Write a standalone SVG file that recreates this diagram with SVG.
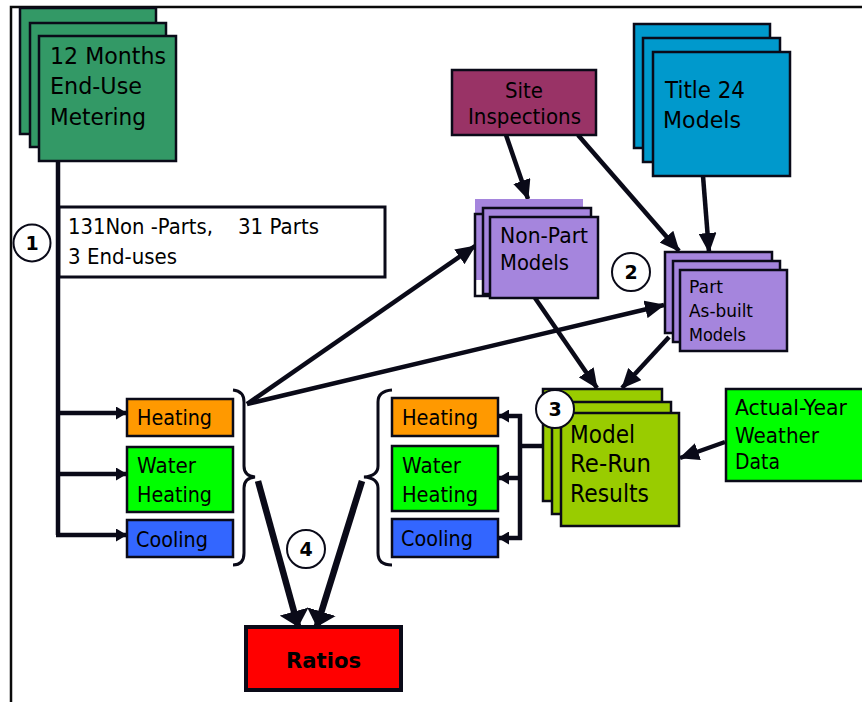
<svg xmlns="http://www.w3.org/2000/svg" width="862" height="702" viewBox="0 0 862 702">
<style>
text{font-family:"DejaVu Sans","Verdana",sans-serif;fill:#000}
.box{stroke:#0a0a18;stroke-width:2.5}
.ln{stroke:#0a0a18;stroke-width:4.5;fill:none}
.thick{stroke:#0a0a18;stroke-width:6.5;fill:none}
.brace{stroke:#0a0a18;stroke-width:3;fill:none}
.circ{fill:#fff;stroke:#0a0a18;stroke-width:2}
.num{font-family:"DejaVu Sans",sans-serif;font-weight:bold;font-size:19px;text-anchor:middle}
</style>
<defs>
<marker id="ah" markerUnits="userSpaceOnUse" markerWidth="20" markerHeight="18" refX="19" refY="9" orient="auto"><path d="M0,0 L20,9 L0,18 z" fill="#0a0a18"/></marker>
<marker id="as" markerUnits="userSpaceOnUse" markerWidth="11" markerHeight="13" refX="10" refY="6.5" orient="auto"><path d="M0,0 L11,6.5 L0,13 z" fill="#0a0a18"/></marker>
<marker id="ab" markerUnits="userSpaceOnUse" markerWidth="16" markerHeight="30" refX="15" refY="15" orient="auto"><path d="M0,0 L16,15 L0,30 z" fill="#0a0a18"/></marker>
</defs>
<rect x="11" y="7" width="870" height="720" fill="#fff" stroke="#0a0a0a" stroke-width="2.5"/>

<g id="connectors">
<path class="ln" d="M58,161 V535"/>
<path class="ln" d="M56,413 H126" marker-end="url(#as)"/>
<path class="ln" d="M56,474 H126" marker-end="url(#as)"/>
<path class="ln" d="M56,535 H126" marker-end="url(#as)"/>
<path class="ln" d="M520,414 V540"/>
<path class="ln" d="M520,446 H543"/>
<path class="ln" d="M522,416 H499" marker-end="url(#as)"/>
<path class="ln" d="M522,478 H499" marker-end="url(#as)"/>
<path class="ln" d="M522,538 H499" marker-end="url(#as)"/>
<path class="ln" d="M506,135 L528,199" marker-end="url(#ah)"/>
<path class="ln" d="M578,135 L679,251" marker-end="url(#ah)"/>
<path class="ln" d="M703,176 L709,252" marker-end="url(#ah)"/>
<path class="ln" d="M247,404 L475,246" marker-end="url(#ah)"/>
<path class="ln" d="M247,404 L664,305" marker-end="url(#ah)"/>
<path class="ln" d="M535,298 L597,388" marker-end="url(#ah)"/>
<path class="ln" d="M669,337 L622,388" marker-end="url(#ah)"/>
<path class="ln" d="M725,442 L680,458" marker-end="url(#ah)"/>
<path class="thick" d="M258,481 L298,626" marker-end="url(#ab)"/>
<path class="thick" d="M362,481 L317,626" marker-end="url(#ab)"/>
<path class="brace" d="M233,390 Q244,391 244,402 L244,466 Q244,476 255,477 Q244,478 244,488 L244,553 Q244,565 233,565"/>
<path class="brace" d="M392,390 Q378,391 378,402 L378,466 Q378,476 364,477 Q378,478 378,488 L378,553 Q378,565 392,565"/>
</g>

<g id="metering">
<rect class="box" x="20" y="8" width="136" height="126" fill="#339966"/>
<rect class="box" x="30" y="23" width="136" height="124" fill="#339966"/>
<rect class="box" x="39" y="36" width="137" height="125" fill="#339966"/>
<text x="50" y="64" font-size="23" textLength="116" lengthAdjust="spacingAndGlyphs">12 Months</text>
<text x="50" y="94" font-size="23" textLength="92" lengthAdjust="spacingAndGlyphs">End-Use</text>
<text x="50" y="125" font-size="23" textLength="96" lengthAdjust="spacingAndGlyphs">Metering</text>
</g>

<g id="counts">
<rect x="59" y="207" width="326" height="70" fill="#fff" stroke="#0a0a18" stroke-width="3"/>
<text x="68" y="234" font-size="20.5" textLength="145" lengthAdjust="spacingAndGlyphs">131Non -Parts,</text>
<text x="238" y="234" font-size="20.5" textLength="81" lengthAdjust="spacingAndGlyphs">31 Parts</text>
<text x="68" y="264" font-size="20.5" textLength="109" lengthAdjust="spacingAndGlyphs">3 End-uses</text>
</g>

<g id="site">
<rect class="box" x="452" y="70" width="144" height="65" fill="#993366"/>
<text x="505" y="98" font-size="22" textLength="38" lengthAdjust="spacingAndGlyphs">Site</text>
<text x="468" y="124" font-size="22" textLength="113" lengthAdjust="spacingAndGlyphs">Inspections</text>
</g>

<g id="title24">
<rect class="box" x="634" y="24" width="136" height="124" fill="#0099cc"/>
<rect class="box" x="643" y="38" width="137" height="124" fill="#0099cc"/>
<rect class="box" x="653" y="52" width="137" height="124" fill="#0099cc"/>
<text x="665" y="98" font-size="23" textLength="80" lengthAdjust="spacingAndGlyphs">Title 24</text>
<text x="663" y="128" font-size="23" textLength="78" lengthAdjust="spacingAndGlyphs">Models</text>
</g>

<g id="nonpart">
<rect x="475" y="199" width="108" height="81" fill="#a585dd"/>
<rect class="box" x="475" y="214" width="108" height="82" fill="none"/>
<rect class="box" x="483" y="208" width="108" height="86" fill="#a585dd"/>
<rect class="box" x="490" y="217" width="108" height="81" fill="#a585dd"/>
<text x="500" y="243" font-size="21" textLength="88" lengthAdjust="spacingAndGlyphs">Non-Part</text>
<text x="500" y="270" font-size="21" textLength="69" lengthAdjust="spacingAndGlyphs">Models</text>
</g>

<g id="part">
<rect class="box" x="665" y="252" width="107" height="81" fill="#a585dd"/>
<rect class="box" x="673" y="261" width="107" height="81" fill="#a585dd"/>
<rect class="box" x="680" y="270" width="107" height="81" fill="#a585dd"/>
<text x="689" y="293" font-size="18" textLength="34" lengthAdjust="spacingAndGlyphs">Part</text>
<text x="689" y="317" font-size="18" textLength="64" lengthAdjust="spacingAndGlyphs">As-built</text>
<text x="689" y="341" font-size="18" textLength="57" lengthAdjust="spacingAndGlyphs">Models</text>
</g>

<g id="heating-l">
<rect class="box" x="127" y="399" width="106" height="37" fill="#ff9900"/>
<text x="137" y="425" font-size="22" textLength="75" lengthAdjust="spacingAndGlyphs">Heating</text>
</g>
<g id="water-l">
<rect class="box" x="127" y="447" width="106" height="65" fill="#00ff00"/>
<text x="137" y="473" font-size="22" textLength="59" lengthAdjust="spacingAndGlyphs">Water</text>
<text x="137" y="502" font-size="22" textLength="75" lengthAdjust="spacingAndGlyphs">Heating</text>
</g>
<g id="cooling-l">
<rect class="box" x="127" y="520" width="106" height="37" fill="#3366ff"/>
<text x="136" y="547" font-size="22" textLength="72" lengthAdjust="spacingAndGlyphs">Cooling</text>
</g>

<g id="heating-r">
<rect class="box" x="392" y="398" width="106" height="38" fill="#ff9900"/>
<text x="402" y="425" font-size="22" textLength="76" lengthAdjust="spacingAndGlyphs">Heating</text>
</g>
<g id="water-r">
<rect class="box" x="392" y="446" width="106" height="65" fill="#00ff00"/>
<text x="402" y="473" font-size="22" textLength="59" lengthAdjust="spacingAndGlyphs">Water</text>
<text x="402" y="502" font-size="22" textLength="76" lengthAdjust="spacingAndGlyphs">Heating</text>
</g>
<g id="cooling-r">
<rect class="box" x="392" y="519" width="106" height="38" fill="#3366ff"/>
<text x="401" y="546" font-size="22" textLength="72" lengthAdjust="spacingAndGlyphs">Cooling</text>
</g>

<g id="rerun">
<rect class="box" x="543" y="389" width="119" height="112" fill="#99cc00"/>
<rect class="box" x="552" y="402" width="119" height="112" fill="#99cc00"/>
<rect class="box" x="561" y="413" width="118" height="113" fill="#99cc00"/>
<text x="570" y="443" font-size="24.5" textLength="65" lengthAdjust="spacingAndGlyphs">Model</text>
<text x="570" y="472" font-size="24.5" textLength="81" lengthAdjust="spacingAndGlyphs">Re-Run</text>
<text x="570" y="502" font-size="24.5" textLength="79" lengthAdjust="spacingAndGlyphs">Results</text>
</g>

<g id="weather">
<rect class="box" x="726" y="389" width="150" height="92" fill="#00ff00"/>
<text x="735" y="415" font-size="21.5" textLength="112" lengthAdjust="spacingAndGlyphs">Actual-Year</text>
<text x="735" y="443" font-size="21.5" textLength="84" lengthAdjust="spacingAndGlyphs">Weather</text>
<text x="735" y="469" font-size="21.5" textLength="45" lengthAdjust="spacingAndGlyphs">Data</text>
</g>

<g id="ratios">
<rect x="246" y="627" width="155" height="63" fill="#ff0000" stroke="#0a0a18" stroke-width="4"/>
<text x="286" y="668" font-size="22" font-weight="bold" textLength="75" lengthAdjust="spacingAndGlyphs">Ratios</text>
</g>

<g id="step1"><circle class="circ" cx="32" cy="243" r="18.5"/><text class="num" x="32" y="250">1</text></g>
<g id="step2"><circle class="circ" cx="631" cy="272" r="19"/><text class="num" x="631" y="279">2</text></g>
<g id="step3"><circle class="circ" cx="555" cy="409" r="19"/><text class="num" x="555" y="416">3</text></g>
<g id="step4"><circle class="circ" cx="306" cy="549" r="19"/><text class="num" x="306" y="556">4</text></g>
</svg>
